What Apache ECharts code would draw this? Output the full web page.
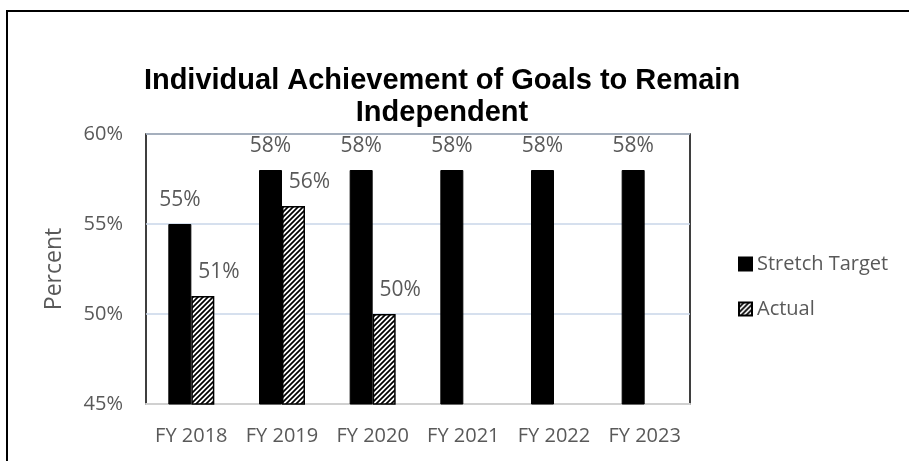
<!DOCTYPE html>
<html>
<head>
<meta charset="utf-8">
<script src="https://cdn.jsdelivr.net/npm/echarts@6/dist/echarts.min.js"></script>
<style>
html,body{margin:0;padding:0;background:#fff;}
#chart{width:909px;height:461px;}
</style>
</head>
<body>
<div id="chart"></div>
<script>
var categories = ['FY 2018', 'FY 2019', 'FY 2020', 'FY 2021', 'FY 2022', 'FY 2023'];
var stretchTarget = [55, 58, 58, 58, 58, 58];
var actual = [51, 56, 50, null, null, null];
var yTicks = [45, 50, 55, 60];

function hatch() {
  var c = document.createElement('canvas');
  c.width = 5; c.height = 5;
  var ctx = c.getContext('2d');
  ctx.fillStyle = '#fff';
  ctx.fillRect(0, 0, 5, 5);
  ctx.strokeStyle = '#000';
  ctx.lineWidth = 1.7;
  ctx.beginPath();
  ctx.moveTo(-1, 6); ctx.lineTo(6, -1);
  ctx.moveTo(-3.5, 3.5); ctx.lineTo(3.5, -3.5);
  ctx.moveTo(1.5, 8.5); ctx.lineTo(8.5, 1.5);
  ctx.stroke();
  return c;
}
var hatchPattern = { image: hatch(), repeat: 'repeat' };

var chart = echarts.init(document.getElementById('chart'));
var gray = '#595959';
var font = 'Open Sans';
chart.setOption({
  animation: false,
  backgroundColor: '#fff',
  title: {
    text: 'Individual Achievement of Goals to Remain\nIndependent',
    left: 437, top: 60, textAlign: 'center',
    textStyle: { fontFamily: 'Liberation Sans', fontWeight: 'bold', fontSize: 29, lineHeight: 32, color: '#000' }
  },
  graphic: [
    { type: 'polyline', shape: { points: [[7, 470], [7, 11], [920, 11]] }, style: { stroke: '#000', lineWidth: 2, fill: null } }
  ],
  legend: {
    orient: 'vertical', left: 733, top: 249,
    itemWidth: 13, itemHeight: 13, itemGap: 25,
    icon: 'rect',
    textStyle: { fontFamily: font, fontSize: 20, color: gray },
    data: ['Stretch Target', 'Actual']
  },
  grid: {
    left: 146, top: 134, right: 219, bottom: 57,
    show: true, borderColor: '#000', borderWidth: 1.5, backgroundColor: 'transparent'
  },
  xAxis: {
    type: 'category', data: categories,
    axisTick: { show: false },
    axisLine: { lineStyle: { color: '#d0d0d0', width: 2 } },
    axisLabel: { interval: 0, fontFamily: font, fontSize: 20, color: gray, margin: 22 }
  },
  yAxis: {
    type: 'value', min: 45, max: 60, interval: 5,
    name: 'Percent', nameLocation: 'middle', nameGap: 80, nameRotate: 90,
    nameTextStyle: { fontFamily: font, fontSize: 23, color: gray },
    axisLine: { show: false },
    axisTick: { show: false },
    splitLine: { lineStyle: { color: '#c9d6e8', width: 1.5 } },
    axisLabel: { fontFamily: font, fontSize: 20, color: gray, margin: 23, formatter: function (v) { return yTicks.indexOf(v) >= 0 ? v + '%' : ''; } }
  },
  series: [
    {
      name: 'Stretch Target', type: 'bar', data: stretchTarget,
      barWidth: 23, barGap: '0%',
      itemStyle: { color: '#000', borderColor: '#000', borderWidth: 1 },
      label: { show: true, position: 'top', distance: 13, fontFamily: font, fontSize: 21, color: gray, formatter: '{c}%' }
    },
    {
      name: 'Actual', type: 'bar', data: actual,
      barWidth: 23,
      itemStyle: { color: hatchPattern, borderColor: '#000', borderWidth: 1.5 },
      label: { show: true, position: 'top', distance: 13, offset: [16, 0], fontFamily: font, fontSize: 21, color: gray, formatter: '{c}%' }
    }
  ]
});
</script>
</body>
</html>
